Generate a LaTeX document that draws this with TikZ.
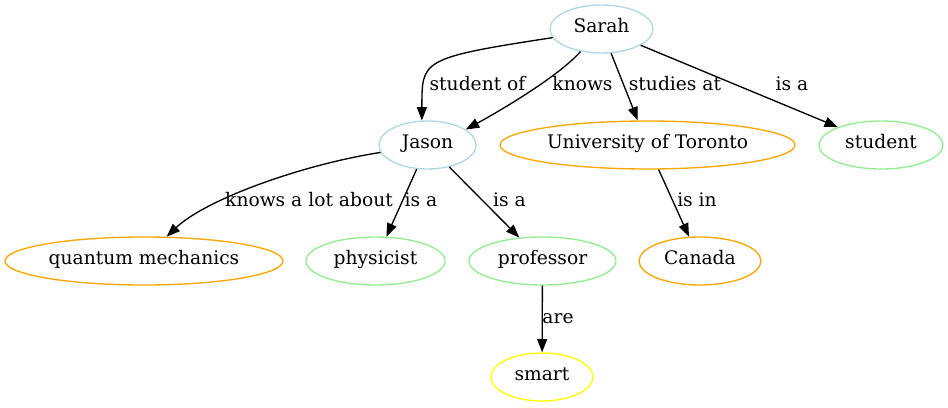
\documentclass[tikz,border=0pt]{standalone}
\usepackage{fontspec}
\setmainfont{DejaVu Serif}
\usetikzlibrary{shapes.geometric,arrows.meta}
\definecolor{personblue}{HTML}{ADD8E6}
\definecolor{placeorange}{HTML}{FFA500}
\definecolor{rolegreen}{HTML}{90EE90}
\definecolor{traityellow}{HTML}{FFFF00}
\tikzset{
  entity/.style={ellipse,draw,line width=1pt,inner sep=0pt,minimum height=36pt,
    text height=0.75em,text depth=0.25em},
  person/.style={entity,draw=personblue},
  place/.style={entity,draw=placeorange},
  role/.style={entity,draw=rolegreen},
  trait/.style={entity,draw=traityellow},
  rel/.style={draw=black,line width=1pt,-{Triangle[length=10pt,width=7.5pt]}},
  rellabel/.style={inner sep=0pt,text height=0.75em,text depth=0.25em}
}
\begin{document}
\begin{tikzpicture}[x=0.75pt,y=0.75pt,font=\fontsize{14pt}{17pt}\selectfont]
    \useasboundingbox (0,0) rectangle (948,-407);
    % Personas
    \node[person,minimum width=77.3pt] (sarah) at (601.5,-29) {Sarah};
    \node[person,minimum width=72.8pt] (jason) at (427.5,-145) {Jason};
    % Lugares
    \node[place,minimum width=221.3pt] (uoft) at (647.5,-145) {University of Toronto};
    \node[place,minimum width=208.5pt] (quantum) at (144,-261) {quantum mechanics};
    \node[place,minimum width=91.5pt] (canada) at (700,-261) {Canada};
    % Roles
    \node[role,minimum width=93pt] (student) at (881,-145) {student};
    \node[role,minimum width=104.3pt] (physicist) at (375.5,-261) {physicist};
    \node[role,minimum width=110.3pt] (professor) at (542.5,-261) {professor};
    % Rasgo
    \node[trait,minimum width=76.5pt] (smart) at (542,-377) {smart};
    % Relaciones de Sarah
    \draw[rel] (sarah.190) .. controls (420,-58) and (422,-60) .. (jason.103);
    \node[rellabel] (lstudentof) at (477.5,-87) {student of};
    \draw[rel] (sarah.227) .. controls (560,-75) and (505,-108) .. (jason.22);
    \node[rellabel] (lknows) at (582.5,-87) {knows};
    \draw[rel] (sarah) -- (uoft);
    \node[rellabel] (lstudies) at (675,-87) {studies at};
    \draw[rel] (sarah) -- (student);
    \node[rellabel] (lisstudent) at (792,-87) {is a};
    % Relaciones de Jason
    \draw[rel] (jason.189) .. controls (300,-165) and (205,-200) .. (quantum.47);
    \node[rellabel] (lknowsalot) at (309,-203) {knows a lot about};
    \draw[rel] (jason) -- (physicist);
    \node[rellabel] (lisphysicist) at (421,-203) {is a};
    \draw[rel] (jason) -- (professor);
    \node[rellabel] (lisprofessor) at (509.5,-203) {is a};
    % Universidad
    \draw[rel] (uoft) -- (canada);
    \node[rellabel] (lisin) at (697,-203) {is in};
    % Profesores
    \draw[rel] (professor) -- (smart);
    \node[rellabel] (lare) at (558,-320) {are};
\end{tikzpicture}
\end{document}
